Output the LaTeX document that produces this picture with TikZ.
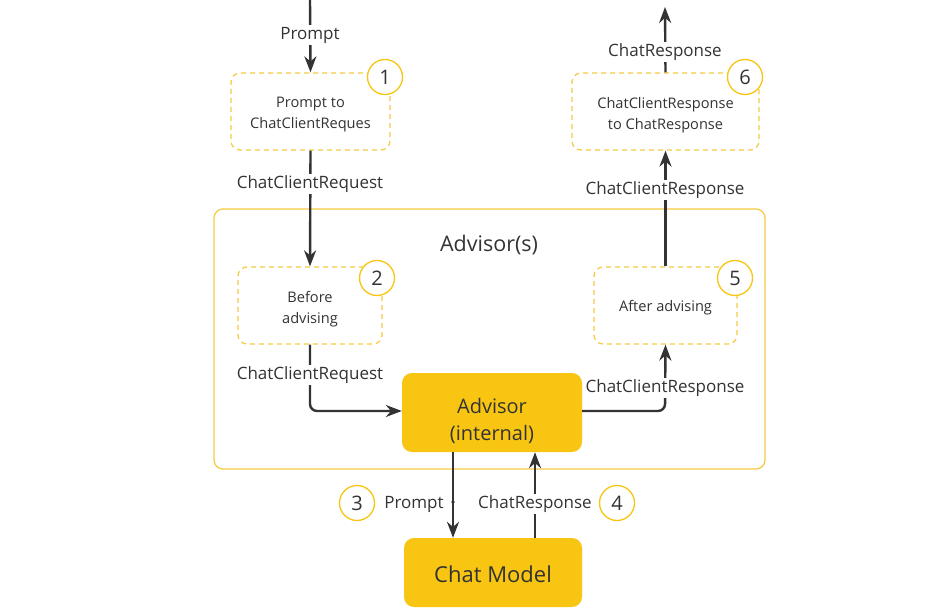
\documentclass[tikz,border=0pt]{standalone}
\usepackage{fontspec}
\setmainfont{Open Sans}
\usetikzlibrary{arrows.meta}
\definecolor{ink}{HTML}{333333}
\definecolor{gold}{HTML}{F8C512}
\definecolor{goldline}{HTML}{F6CB45}
\tikzset{
  lbl/.style={font=\fontsize{17}{19}\selectfont, text=ink, fill=white, inner sep=1.5pt},
  dbox/.style={draw=goldline, line width=1.3pt, dash pattern=on 5pt off 4pt, rounded corners=9pt, fill=white},
  dtxt/.style={align=center, text=ink, font=\fontsize{14.6}{21}\selectfont},
  fbox/.style={fill=gold, rounded corners=10pt},
  num/.style={circle, draw=gold, line width=1.3pt, fill=white, minimum size=35pt, inner sep=0pt, text=ink, font=\fontsize{20}{21}\selectfont},
  flow/.style={draw=ink, line width=2.4pt, -{Stealth[length=16pt,width=12pt]}}
}
\begin{document}
\begin{tikzpicture}[x=1pt,y=-1pt]
\useasboundingbox (0,0) rectangle (952,610);
\fill[white] (0,0) rectangle (952,610);
% container
\draw[draw=goldline, line width=1.3pt, rounded corners=9pt] (214,209) rectangle (765,469);
\node[font=\fontsize{21.5}{24}\selectfont, text=ink] (advs) at (489,245) {Advisor(s)};
% boxes
\node[dbox, minimum width=159pt, minimum height=77pt] (b1) at (310.5,111.5) {};
\node[dtxt] (b1t) at (310.5,115) {Prompt to\\ChatClientReques};
\node[dbox, minimum width=144pt, minimum height=77pt] (b2) at (310,305.5) {};
\node[dtxt] (b2t) at (310,309) {Before\\advising};
\node[dbox, minimum width=143pt, minimum height=77pt] (b5) at (665.5,305.5) {};
\node[dtxt] (b5t) at (665.5,307.5) {After advising};
\node[dbox, minimum width=187pt, minimum height=77pt] (b6) at (665.5,111.5) {};
\node[dtxt] (b6t) at (665.5,115) {ChatClientResponse\\to ChatResponse};
\node[fbox, minimum width=180pt, minimum height=79pt] (adv) at (492,412.5) {};
\node[align=center, text=ink, font=\fontsize{20}{27}\selectfont] (advt) at (492,421) {Advisor\\(internal)};
\node[fbox, minimum width=178pt, minimum height=69pt] (cm) at (493,572.5) {};
\node[text=ink, font=\fontsize{22}{24}\selectfont] (cmt) at (493,574) {Chat Model};
% coordinates
\coordinate (top) at (310,0);
\coordinate (out) at (665,7);
\coordinate (cl) at (310,411);
\coordinate (cr) at (665,411);
% connectors
\draw[flow] (top) -- (b1.north);
\node[lbl] (lp) at (310,35) {Prompt};
\draw[flow] (b1.south) -- (b2.north);
\node[lbl] (l1) at (310,184) {ChatClientRequest};
\draw[flow, rounded corners=7pt] (b2.south) -- (cl) -- (adv.west |- cl);
\node[lbl] (l2) at (310,375) {ChatClientRequest};
\draw[flow, rounded corners=7pt] (adv.east |- cr) -- (cr) -- (b5.south);
\node[lbl] (l3) at (665,388) {ChatClientResponse};
\draw[flow] (b5.north) -- (b6.south);
\node[lbl] (l4) at (665,190) {ChatClientResponse};
\draw[flow] (b6.north) -- (out);
\node[lbl] (l5) at (665,52) {ChatResponse};
\draw[flow] (adv.south -| 453,0) -- (cm.north -| 453,0);
\node[lbl, fill=none] (l6) at (414,504) {Prompt};
\fill[ink] (453,502) circle (1.8pt);
\draw[flow] (cm.north -| 535,0) -- (adv.south -| 535,0);
\node[lbl] (l7) at (535,504) {ChatResponse};
% numbers
\node[num] (n1) at (385,77) {1};
\node[num] (n2) at (377,278) {2};
\node[num] (n3) at (357,503) {3};
\node[num] (n4) at (617,503) {4};
\node[num] (n5) at (735,278) {5};
\node[num] (n6) at (745,77) {6};
\end{tikzpicture}
\end{document}
